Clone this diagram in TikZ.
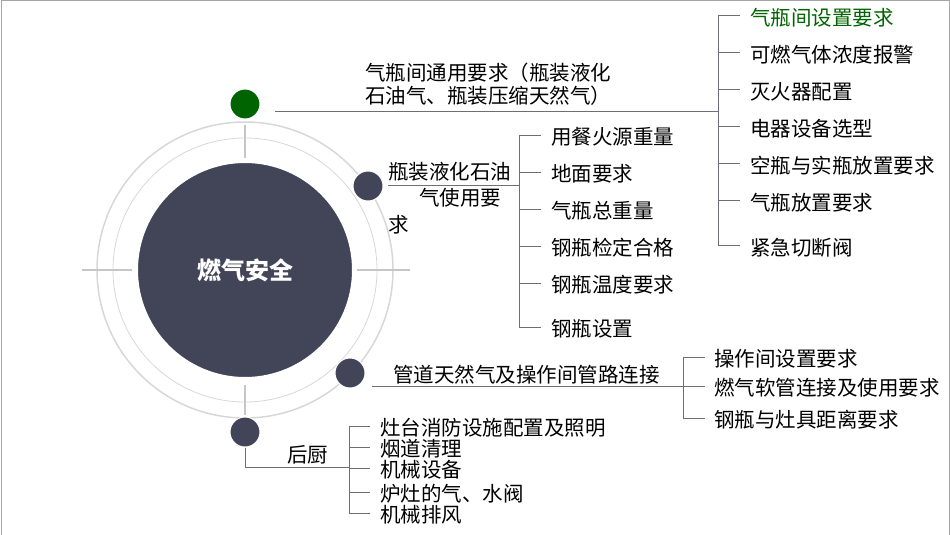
\documentclass[tikz,border=0pt]{standalone}
\usepackage{fontspec}
\setmainfont{Noto Sans CJK SC}
\usetikzlibrary{positioning}
\definecolor{hubblue}{RGB}{66,69,87}
\definecolor{ringgray}{RGB}{215,215,215}
\definecolor{linegray}{RGB}{110,110,120}
\definecolor{leafgreen}{RGB}{0,100,0}

\begin{document}
\begin{tikzpicture}[x=1pt, y=-1pt,
  dot/.style={circle, fill=hubblue, draw=white, line width=1pt, minimum size=30pt, inner sep=0pt},
  leaf/.style={anchor=west, inner sep=0pt, font=\fontsize{20.5}{22}\selectfont},
  branch/.style={align=left, anchor=west, inner sep=0pt, font=\fontsize{20.5}{23}\selectfont},
  tree/.style={draw=linegray, line width=0.8pt}]

\useasboundingbox (0,0) rectangle (950,535);
\draw[gray!70, line width=1pt] (1,535) -- (1,1) -- (949,1) -- (949,535);

% hub and rings
\draw[ringgray, line width=1.5pt] (245,270) circle (148);
\draw[ringgray, line width=0.8pt] (245,270) circle (132);
\draw[ringgray!80!gray, line width=2pt] (82,270) -- (132,270) (357,270) -- (410,270)
  (245,125) -- (245,158) (245,385) -- (245,415);
\node[circle, fill=hubblue, draw=white, line width=2pt, minimum size=216pt] (hub) at (245,270)
  {\textcolor{white}{\fontsize{24}{26}\selectfont\bfseries 燃气安全}};

\node[dot, fill=leafgreen] (d1) at (245,104) {};
\node[dot] (d2) at (368,186) {};
\node[dot] (d3) at (350,373) {};
\node[dot] (d4) at (245,432) {};

% branch 1
\node[branch] (b1) at (365,84) {气瓶间通用要求（瓶装液化\\石油气、瓶装压缩天然气）};
\draw[tree] (275,111) -- (718,111);
\draw[tree] (718,15) -- (718,245);
\draw[tree] (718,15) -- (740,15);
\node[leaf, text=leafgreen] (a0) at (750,18) {气瓶间设置要求};
\foreach \t/\y [count=\i] in {可燃气体浓度报警/52, 灭火器配置/89, 电器设备选型/126,
  空瓶与实瓶放置要求/163, 气瓶放置要求/200, 紧急切断阀/245} {
  \draw[tree] (718,\y) -- (740,\y);
  \node[leaf] (a\i) at (750,\y+3) {\t};
}

% branch 2
\node[leaf] (b2a) at (388,172) {瓶装液化石油};
\node[leaf] (b2b) at (419,198) {气使用要};
\node[leaf] (b2c) at (388,225) {求};
\draw[tree] (388,185) -- (519,185);
\draw[tree] (519,135) -- (519,327);
\foreach \t/\y [count=\i] in {用餐火源重量/135, 地面要求/172, 气瓶总重量/209, 钢瓶检定合格/246,
  钢瓶温度要求/283, 钢瓶设置/327} {
  \draw[tree] (519,\y) -- (541,\y);
  \node[leaf] (c\i) at (551,\y+2) {\t};
}

% branch 3
\node[leaf] (b3) at (393,375) {管道天然气及操作间管路连接};
\draw[tree] (372,386) -- (683,386);
\draw[tree] (683,357) -- (683,418);
\foreach \t/\y [count=\i] in {操作间设置要求/357, 燃气软管连接及使用要求/386, 钢瓶与灶具距离要求/418} {
  \draw[tree] (683,\y) -- (705,\y);
  \node[leaf] (e\i) at (714,\y+2) {\t};
}

% branch 4
\node[leaf] (b4) at (287,455) {后厨};
\draw[tree] (d4.south) -- (245,467) -- (349,467);
\draw[tree] (349,426) -- (349,513);
\foreach \t/\y [count=\i] in {灶台消防设施配置及照明/426, 烟道清理/447, 机械设备/468, 炉灶的气、水阀/492, 机械排风/513} {
  \draw[tree] (349,\y) -- (370,\y);
  \node[leaf] (f\i) at (380,\y+2) {\t};
}
\end{tikzpicture}
\end{document}
